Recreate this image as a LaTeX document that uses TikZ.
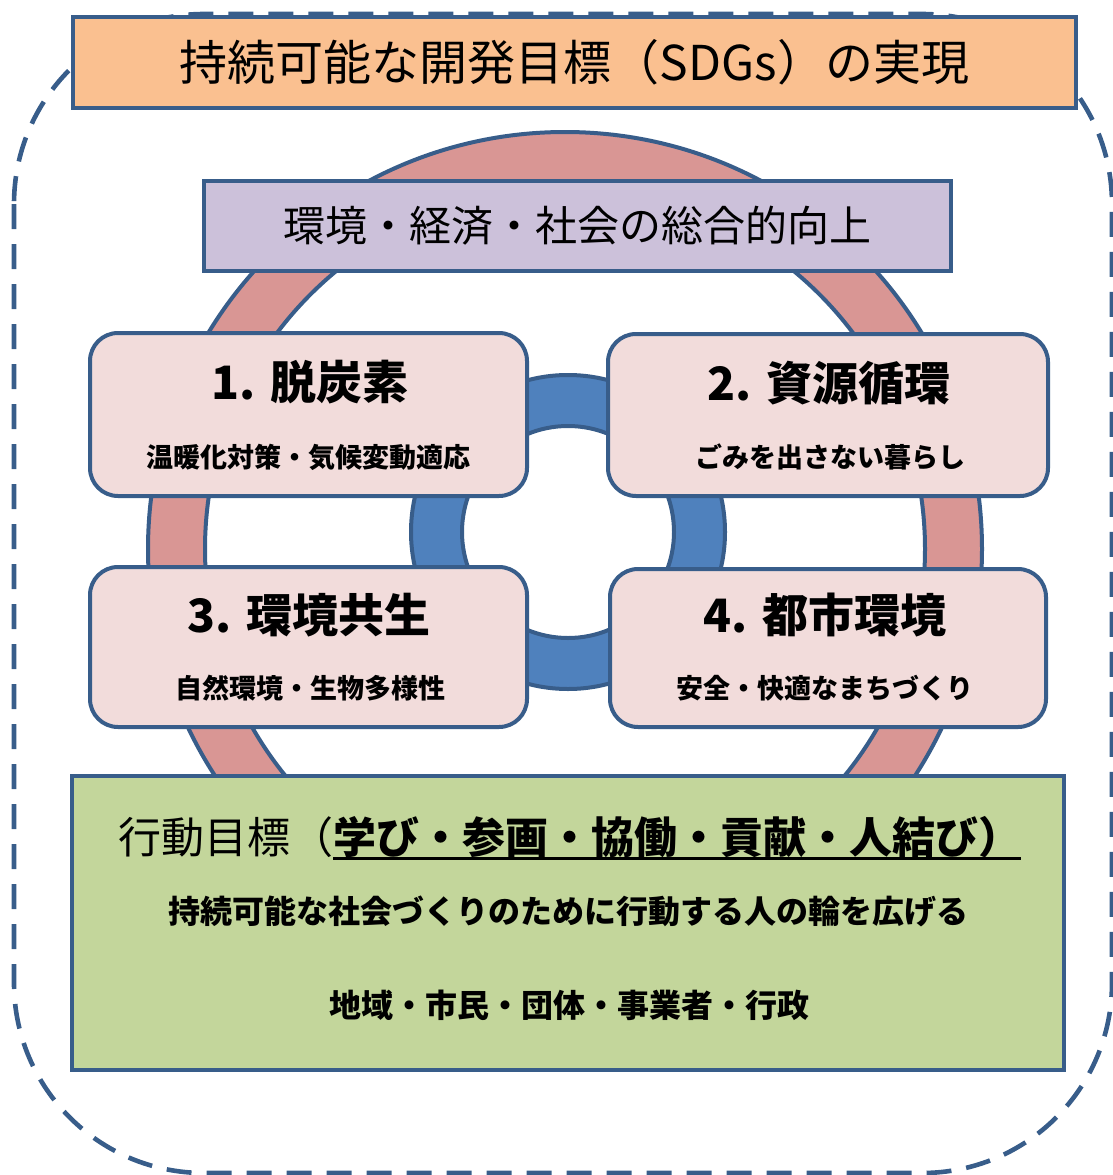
\documentclass[tikz,border=0pt]{standalone}
\usepackage{fontspec}
\newfontfamily\jp{Noto Sans CJK JP}
\definecolor{bord}{HTML}{385D8A}
\definecolor{titlefill}{HTML}{FAC090}
\definecolor{lavfill}{HTML}{CCC1DA}
\definecolor{pinkfill}{HTML}{F2DCDB}
\definecolor{ringred}{HTML}{D99694}
\definecolor{ringblue}{HTML}{4F81BD}
\definecolor{greenfill}{HTML}{C3D69B}
\newcommand\ulbar[1]{\setbox0=\hbox{#1}\rlap{\rule[-7pt]{\wd0}{3pt}}\box0}
\begin{document}
\begin{tikzpicture}[x=1pt,y=-1pt,
  outline/.style={draw=bord,line width=4pt},
  plainbox/.style={outline,rectangle,inner sep=0pt},
  pinkbox/.style={outline,fill=pinkfill,rectangle,rounded corners=28pt,inner sep=0pt},
  ringshape/.style={draw=bord,line width=4pt,even odd rule},
  dashline/.style={draw=bord,line width=4.6pt,dash pattern=on 25pt off 15pt},
  headtext/.style={font=\jp\bfseries\fontsize{46}{54}\selectfont,inner sep=0pt},
  subtext/.style={font=\jp\bfseries\fontsize{27}{32}\selectfont,inner sep=0pt},
  bodytext/.style={font=\jp\bfseries\fontsize{32}{38}\selectfont,inner sep=0pt}
]
\useasboundingbox (0,0) rectangle (1113,1175);
% outer dashed frame
\draw[dashline,rounded corners=190pt] (14,14) rectangle (1112,1173);
% big ring
\coordinate (bigc) at (565,549);
\path[ringshape,fill=ringred] (bigc) circle (417pt) (bigc) circle (360pt);
% title
\node[plainbox,fill=titlefill,minimum width=1003pt,minimum height=91pt,
  font=\jp\fontsize{48}{56}\selectfont] (title) at (574.5,62.5) {持続可能な開発目標（SDGs）の実現};
% goal box
\node[plainbox,fill=lavfill,minimum width=747pt,minimum height=90pt,
  font=\jp\fontsize{42}{50}\selectfont] (goal) at (577.5,226) {環境・経済・社会の総合的向上};
% small blue ring
\coordinate (smallc) at (568,532);
\path[ringshape,fill=ringblue] (smallc) circle (157pt) (smallc) circle (106pt);
% four theme boxes
\node[pinkbox,minimum width=437pt,minimum height=163pt] (b1) at (308.5,414.5) {};
\node[pinkbox,minimum width=440pt,minimum height=162pt] (b2) at (828,415) {};
\node[pinkbox,minimum width=437pt,minimum height=160pt] (b3) at (308.5,647) {};
\node[pinkbox,minimum width=436pt,minimum height=158pt] (b4) at (828,648) {};
\node[headtext] (h1) at (310,382) {1. 脱炭素};
\node[subtext]  (s1) at (308,457) {温暖化対策・気候変動適応};
\node[headtext] (h2) at (829,383) {2. 資源循環};
\node[subtext]  (s2) at (830,457) {ごみを出さない暮らし};
\node[headtext] (h3) at (309,615) {3. 環境共生};
\node[subtext]  (s3) at (310,688) {自然環境・生物多様性};
\node[headtext] (h4) at (825,615) {4. 都市環境};
\node[subtext]  (s4) at (825,688) {安全・快適なまちづくり};
% action box
\node[plainbox,fill=greenfill,minimum width=992pt,minimum height=294pt] (act) at (568,923) {};
\node[inner sep=0pt,font=\jp\fontsize{43}{50}\selectfont] (acthead) at (569.5,838)
  {行動目標（{\bfseries\ulbar{学び・参画・協働・貢献・人結び）}}};
\node[bodytext] (act1) at (568,911) {持続可能な社会づくりのために行動する人の輪を広げる};
\node[bodytext] (act2) at (569,1005) {地域・市民・団体・事業者・行政};
\end{tikzpicture}
\end{document}
